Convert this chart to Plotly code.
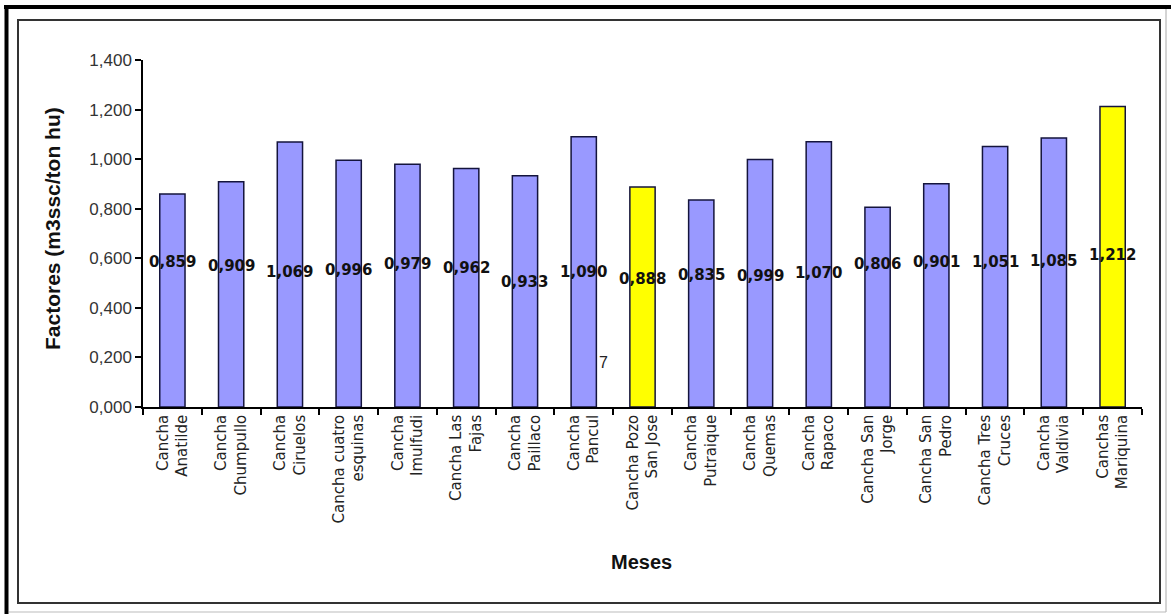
import plotly.graph_objects as go

# Bar categories (two-line labels) and factor values
categories = [
    "Cancha<br>Anatilde", "Cancha<br>Chumpullo", "Cancha<br>Ciruelos",
    "Cancha cuatro<br>esquinas", "Cancha<br>Imulfudi", "Cancha Las<br>Fajas",
    "Cancha<br>Paillaco", "Cancha<br>Pancul", "Cancha Pozo<br>San Jose",
    "Cancha<br>Putraique", "Cancha<br>Quemas", "Cancha<br>Rapaco",
    "Cancha San<br>Jorge", "Cancha San<br>Pedro", "Cancha Tres<br>Cruces",
    "Cancha<br>Valdivia", "Canchas<br>Mariquina",
]
factores = [0.859, 0.909, 1.069, 0.996, 0.979, 0.962, 0.933, 1.090, 0.888,
            0.835, 0.999, 1.070, 0.806, 0.901, 1.051, 1.085, 1.212]
highlighted = ["Cancha Pozo<br>San Jose", "Canchas<br>Mariquina"]

# Vertical placement of the value labels (axis units)
label_y = [0.585, 0.569, 0.545, 0.553, 0.577, 0.561, 0.504, 0.545, 0.516,
           0.533, 0.529, 0.541, 0.577, 0.585, 0.585, 0.589, 0.613]

y_tickvals = [0.0, 0.2, 0.4, 0.6, 0.8, 1.0, 1.2, 1.4]
y_ticktext = ["0,000", "0,200", "0,400", "0,600", "0,800", "1,000", "1,200", "1,400"]

W, H = 1171, 614
L, R, T, B = 143, 29, 60, 207


def fmt(v):
    return f"{v:.3f}".replace(".", ",")


def px(x):
    return (x - L) / (W - L - R)


def py(y):
    return (H - B - y) / (H - T - B)


colors = ["#FFFF00" if c in highlighted else "#9999FF" for c in categories]

fig = go.Figure(
    go.Bar(
        x=categories,
        y=factores,
        marker=dict(color=colors, line=dict(color="#14143c", width=1.5)),
        width=0.43,
        hoverinfo="x+y",
    )
)

for c, v, ly in zip(categories, factores, label_y):
    fig.add_annotation(
        x=c, y=ly, text=f"<b>{fmt(v)}</b>", showarrow=False,
        font=dict(family="DejaVu Sans", size=15, color="#111111"),
        xanchor="center", yanchor="middle",
    )

# Stray label next to the Pancul bar
fig.add_annotation(
    x=px(603), y=py(362), xref="paper", yref="paper", text="7", showarrow=False,
    font=dict(family="Liberation Sans", size=16, color="#222222"),
    xanchor="center", yanchor="middle",
)

# Axis titles
fig.add_annotation(
    x=px(52), y=py(229), xref="paper", yref="paper",
    text="<b>Factores (m3ssc/ton hu)</b>", showarrow=False, textangle=-90,
    font=dict(family="Liberation Sans", size=21, color="#111111"),
    xanchor="center", yanchor="middle",
)
fig.add_annotation(
    x=px(641), y=py(562), xref="paper", yref="paper",
    text="<b>Meses</b>", showarrow=False,
    font=dict(family="Liberation Sans", size=20, color="#111111"),
    xanchor="center", yanchor="middle",
)

# Chart frame
shapes = [
    dict(type="rect", x0=px(18), x1=px(1160), y0=py(20), y1=py(603),
         line=dict(color="#333333", width=2)),
    dict(type="line", x0=px(4), x1=px(1171), y0=py(7), y1=py(7),
         line=dict(color="#000000", width=4)),
    dict(type="line", x0=px(6.5), x1=px(6.5), y0=py(5), y1=py(614),
         line=dict(color="#000000", width=4)),
    dict(type="line", x0=px(1166), x1=px(1166), y0=py(9), y1=py(612),
         line=dict(color="#aaaaaa", width=1)),
    dict(type="line", x0=px(9), x1=px(1166), y0=py(612), y1=py(612),
         line=dict(color="#bbbbbb", width=1)),
]
for s in shapes:
    s.update(xref="paper", yref="paper", layer="above")
fig.update_layout(shapes=shapes)

fig.update_layout(
    width=W, height=H,
    margin=dict(l=L, r=R, t=T, b=B, pad=0),
    paper_bgcolor="white", plot_bgcolor="white",
    showlegend=False,
    font=dict(family="Liberation Sans", color="#222222"),
)
fig.update_xaxes(
    type="category", range=[-0.5, len(categories) - 0.5],
    showline=True, linecolor="#000000", linewidth=1.5,
    ticks="outside", ticklen=6, tickcolor="#000000", tickwidth=1.5,
    tickson="boundaries", tickangle=-90, showgrid=False,
    tickfont=dict(family="DejaVu Sans", size=15, color="#222222"),
)
fig.update_yaxes(
    range=[0, 1.4], tickvals=y_tickvals, ticktext=y_ticktext,
    showline=True, linecolor="#000000", linewidth=1.5,
    ticks="outside", ticklen=6, tickcolor="#000000", tickwidth=1.5,
    showgrid=False, zeroline=False,
    tickfont=dict(family="Liberation Sans", size=17, color="#333333"),
)

fig.write_html("out.html")
